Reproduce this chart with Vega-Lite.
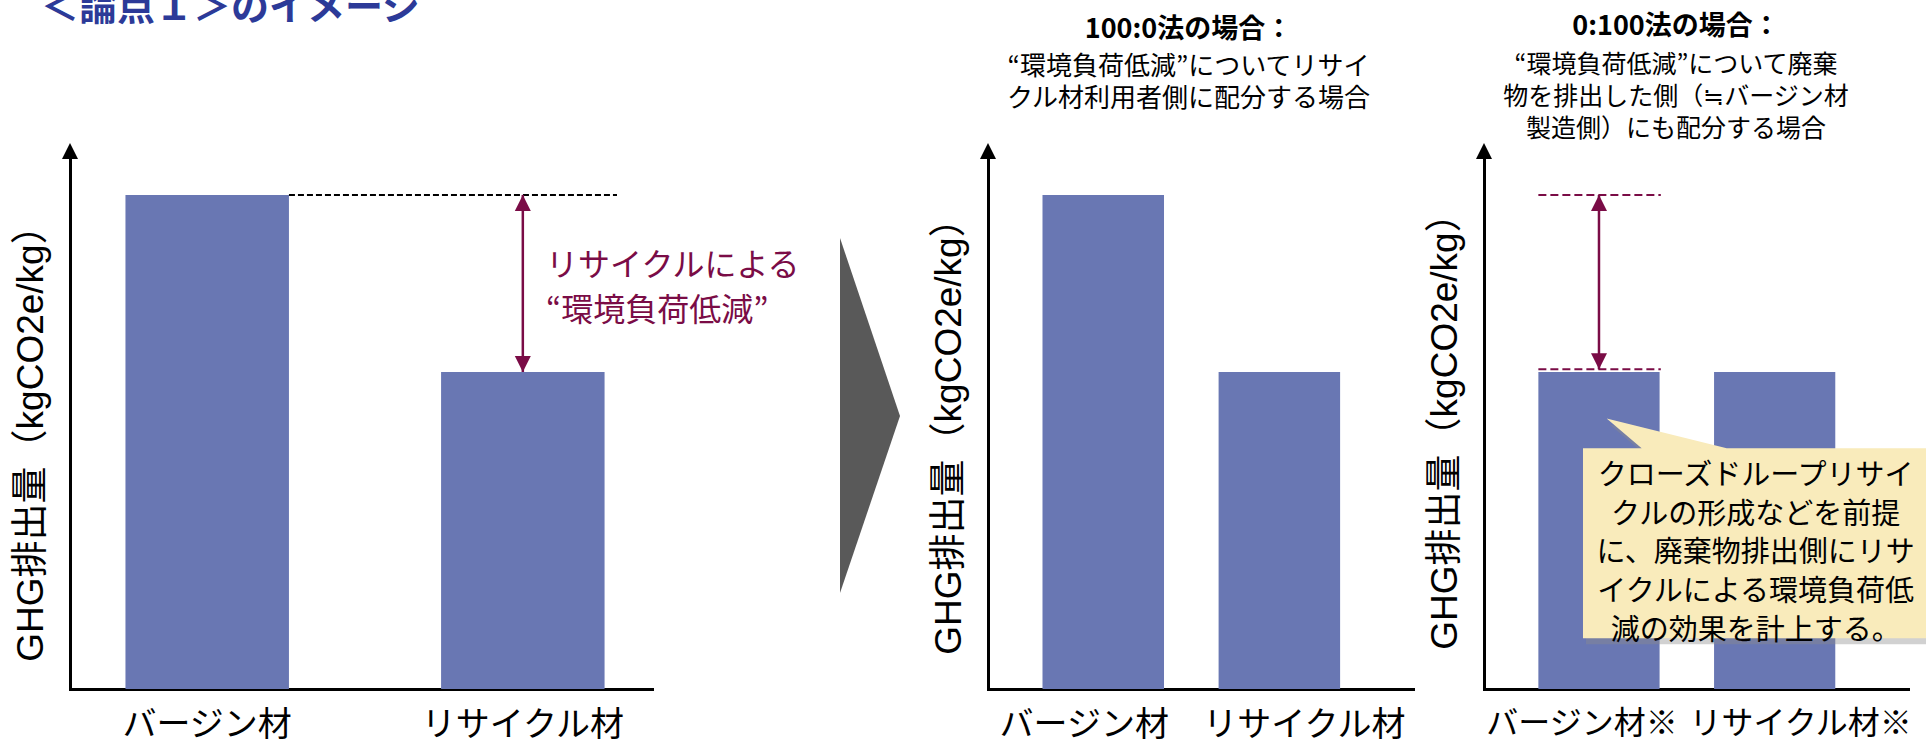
{
  "$schema": "https://vega.github.io/schema/vega-lite/v6.json",
  "background": "white",
  "padding": {"left": 12, "top": -10, "right": 0, "bottom": 20},
  "bounds": "flush",
  "spacing": 71,
  "config": {
    "view": {"stroke": null},
    "font": "Noto Sans CJK JP",
    "axis": {
      "grid": false,
      "ticks": false,
      "domainColor": "black",
      "domainWidth": 3,
      "domainCap": "square",
      "labelColor": "black",
      "titleColor": "black",
      "labelFont": "Noto Sans CJK JP",
      "titleFont": "Liberation Sans, Noto Sans CJK JP",
      "titleFontWeight": "normal",
      "titleFontSize": 37,
      "labelLimit": 0,
      "labelOverlap": false
    },
    "title": {"color": "black", "subtitleColor": "black", "font": "Noto Sans CJK JP", "subtitleFont": "Noto Sans CJK JP"}
  },
  "datasets": {
    "p1": [{"material": "バージン材", "ghg": 91.5}, {"material": "リサイクル材", "ghg": 58.7}],
    "p2": [{"material": "バージン材", "ghg": 91.5}, {"material": "リサイクル材", "ghg": 58.7}],
    "p3": [{"material": "バージン材※", "ghg": 58.7}, {"material": "リサイクル材※", "ghg": 58.7}]
  },
  "hconcat": [
    {
      "width": 582,
      "height": 540,
      "title": {"text": "＜論点１＞のイメージ", "anchor": "start", "frame": "group", "dx": -29, "offset": 77, "baseline": "bottom", "fontSize": 38, "fontWeight": "bold", "color": "#2C3A98"},
      "layer": [
        {
          "data": {"name": "p1"},
          "mark": {"type": "bar", "color": "#6977B3"},
          "encoding": {
            "x": {"field": "material", "type": "nominal", "title": null, "scale": {"paddingInner": 0.482, "paddingOuter": 0.163, "align": 0.539}, "axis": {"labelAngle": 0, "labelFontSize": 34, "labelPadding": 19}},
            "y": {"field": "ghg", "type": "quantitative", "scale": {"domain": [0, 100]}, "axis": {"title": "GHG排出量（kgCO2e/kg）", "labels": false, "titlePadding": 20, "titleY": 285}}
          }
        },
        {
          "data": {"values": [{"material": "バージン材", "material2": "リサイクル材", "ghg": 91.5}]},
          "mark": {"type": "rule", "color": "black", "strokeWidth": 2, "strokeDash": [6, 3]},
          "encoding": {
            "x": {"field": "material", "type": "nominal", "bandPosition": 1, "title": null},
            "x2": {"field": "material2", "bandPosition": 1.076},
            "y": {"field": "ghg", "type": "quantitative"}
          }
        },
        {
          "data": {"values": [{"material": "リサイクル材", "low": 58.7, "high": 91.5}]},
          "mark": {"type": "rule", "color": "#7A0C46", "strokeWidth": 2.5},
          "encoding": {
            "x": {"field": "material", "type": "nominal", "bandPosition": 0.5, "title": null},
            "y": {"field": "low", "type": "quantitative"},
            "y2": {"field": "high"}
          }
        },
        {
          "data": {"values": [{"material": "リサイクル材", "ghg": 91.5, "dir": "up"}, {"material": "リサイクル材", "ghg": 58.7, "dir": "down"}]},
          "mark": {"type": "point", "filled": true, "opacity": 1, "color": "#7A0C46", "size": 1024, "strokeWidth": 0},
          "encoding": {
            "x": {"field": "material", "type": "nominal", "bandPosition": 0.5, "title": null},
            "y": {"field": "ghg", "type": "quantitative"},
            "shape": {"field": "dir", "type": "nominal", "scale": {"domain": ["up", "down"], "range": ["M0,0L0.5,1L-0.5,1Z", "M0,0L0.5,-1L-0.5,-1Z"]}, "legend": null}
          }
        },
        {
          "data": {"values": [{"material": "バージン材"}]},
          "mark": {"type": "point", "filled": true, "opacity": 1, "color": "black", "size": 1024, "strokeWidth": 0, "shape": "M0,0L0.5,1L-0.5,1Z"},
          "encoding": {
            "x": {"field": "material", "type": "nominal", "bandPosition": -0.3392, "title": null},
            "y": {"datum": 101.1, "type": "quantitative"}
          }
        },
        {
          "data": {"values": [{"material": "リサイクル材", "ghg": 78.3, "note": "リサイクルによる\n“環境負荷低減”"}]},
          "mark": {"type": "text", "align": "left", "baseline": "middle", "fontSize": 32, "lineHeight": 45, "lineBreak": "\n", "color": "#7A0C46"},
          "encoding": {
            "x": {"field": "material", "type": "nominal", "bandPosition": 0.642, "title": null},
            "y": {"field": "ghg", "type": "quantitative"},
            "text": {"field": "note"}
          }
        }
      ]
    },
    {
      "width": 194,
      "height": 540,
      "data": {"values": [{"step": "next"}]},
      "mark": {"type": "point", "filled": true, "opacity": 1, "color": "#595959", "size": 40000, "strokeWidth": 0, "shape": "M0.2,-1.81L0.8,-0.03L0.2,1.74Z"},
      "encoding": {}
    },
    {
      "width": 425,
      "height": 540,
      "title": {"text": "100:0法の場合：", "subtitle": ["“環境負荷低減”についてリサイ", "クル材利用者側に配分する場合"], "anchor": "middle", "dx": -12, "offset": 30, "fontSize": 27, "fontWeight": "bold", "subtitleFontSize": 26, "subtitleLineHeight": 32, "subtitlePadding": 10},
      "layer": [
        {
          "data": {"name": "p2"},
          "mark": {"type": "bar", "color": "#6977B3"},
          "encoding": {
            "x": {"field": "material", "type": "nominal", "title": null, "scale": {"paddingInner": 0.31, "paddingOuter": 0.3617, "align": 0.4278}, "axis": {"labelAngle": 0, "labelFontSize": 34, "labelPadding": 19, "labelOffset": {"condition": {"test": "datum.value === 'バージン材'", "value": -19}, "value": 25}}},
            "y": {"field": "ghg", "type": "quantitative", "scale": {"domain": [0, 100]}, "axis": {"title": "GHG排出量（kgCO2e/kg）", "labels": false, "titlePadding": 20, "titleY": 278}}
          }
        },
        {
          "data": {"values": [{"material": "バージン材"}]},
          "mark": {"type": "point", "filled": true, "opacity": 1, "color": "black", "size": 1024, "strokeWidth": 0, "shape": "M0,0L0.5,1L-0.5,1Z"},
          "encoding": {
            "x": {"field": "material", "type": "nominal", "bandPosition": -0.4485, "title": null},
            "y": {"datum": 101.1, "type": "quantitative"}
          }
        }
      ]
    },
    {
      "width": 424,
      "height": 540,
      "title": {"text": "0:100法の場合：", "subtitle": ["“環境負荷低減”について廃棄", "物を排出した側（≒バージン材", "製造側）にも配分する場合"], "anchor": "middle", "dx": -20, "offset": 0, "fontSize": 27, "fontWeight": "bold", "subtitleFontSize": 25, "subtitleLineHeight": 32, "subtitlePadding": 12},
      "layer": [
        {
          "data": {"name": "p3"},
          "mark": {"type": "bar", "color": "#6977B3"},
          "encoding": {
            "x": {"field": "material", "type": "nominal", "title": null, "scale": {"paddingInner": 0.31, "paddingOuter": 0.3617, "align": 0.4278}, "axis": {"labelAngle": 0, "labelFontSize": 32, "labelPadding": 19, "labelOffset": {"condition": {"test": "datum.value === 'バージン材※'", "value": -17}, "value": 26}}},
            "y": {"field": "ghg", "type": "quantitative", "scale": {"domain": [0, 100]}, "axis": {"title": "GHG排出量（kgCO2e/kg）", "labels": false, "titlePadding": 20, "titleY": 273}}
          }
        },
        {
          "data": {"values": [{"material": "バージン材※", "ghg": 91.5}, {"material": "バージン材※", "ghg": 59.2}]},
          "mark": {"type": "rule", "color": "#7A0C46", "strokeWidth": 2, "strokeDash": [8, 4]},
          "encoding": {
            "x": {"field": "material", "type": "nominal", "bandPosition": 0, "title": null},
            "x2": {"field": "material", "bandPosition": 1.01},
            "y": {"field": "ghg", "type": "quantitative"}
          }
        },
        {
          "data": {"values": [{"material": "バージン材※", "low": 59.2, "high": 91.5}]},
          "mark": {"type": "rule", "color": "#7A0C46", "strokeWidth": 2.5},
          "encoding": {
            "x": {"field": "material", "type": "nominal", "bandPosition": 0.5, "title": null},
            "y": {"field": "low", "type": "quantitative"},
            "y2": {"field": "high"}
          }
        },
        {
          "data": {"values": [{"material": "バージン材※", "ghg": 91.5, "dir": "up"}, {"material": "バージン材※", "ghg": 59.2, "dir": "down"}]},
          "mark": {"type": "point", "filled": true, "opacity": 1, "color": "#7A0C46", "size": 1024, "strokeWidth": 0},
          "encoding": {
            "x": {"field": "material", "type": "nominal", "bandPosition": 0.5, "title": null},
            "y": {"field": "ghg", "type": "quantitative"},
            "shape": {"field": "dir", "type": "nominal", "scale": {"domain": ["up", "down"], "range": ["M0,0L0.5,1L-0.5,1Z", "M0,0L0.5,-1L-0.5,-1Z"]}, "legend": null}
          }
        },
        {
          "data": {"values": [{"material": "リサイクル材※", "ghg": 27.0}]},
          "mark": {"type": "point", "filled": true, "opacity": 0.4, "color": "#8C8C8C", "size": 117649, "strokeWidth": 0, "xOffset": 3, "yOffset": 6, "shape": "M-1,-0.554L-0.658,-0.554L-0.862,-0.727L-0.162,-0.554L1,-0.554L1,0.554L-1,0.554Z"},
          "encoding": {
            "x": {"field": "material", "type": "nominal", "bandPosition": 0.3336, "title": null},
            "y": {"field": "ghg", "type": "quantitative"}
          }
        },
        {
          "data": {"values": [{"material": "リサイクル材※", "ghg": 27.0}]},
          "mark": {"type": "point", "filled": true, "opacity": 1, "color": "#F9EBBB", "size": 117649, "strokeWidth": 0, "shape": "M-1,-0.554L-0.658,-0.554L-0.862,-0.727L-0.162,-0.554L1,-0.554L1,0.554L-1,0.554Z"},
          "encoding": {
            "x": {"field": "material", "type": "nominal", "bandPosition": 0.3336, "title": null},
            "y": {"field": "ghg", "type": "quantitative"}
          }
        },
        {
          "data": {"values": [{"material": "リサイクル材※", "ghg": 39.4, "note": "クローズドループリサイ\nクルの形成などを前提\nに、廃棄物排出側にリサ\nイクルによる環境負荷低\n減の効果を計上する。"}]},
          "mark": {"type": "text", "align": "center", "baseline": "middle", "fontSize": 29, "lineHeight": 38.6, "lineBreak": "\n", "color": "black"},
          "encoding": {
            "x": {"field": "material", "type": "nominal", "bandPosition": 0.343, "title": null},
            "y": {"field": "ghg", "type": "quantitative"},
            "text": {"field": "note"}
          }
        },
        {
          "data": {"values": [{"material": "バージン材※"}]},
          "mark": {"type": "point", "filled": true, "opacity": 1, "color": "black", "size": 1024, "strokeWidth": 0, "shape": "M0,0L0.5,1L-0.5,1Z"},
          "encoding": {
            "x": {"field": "material", "type": "nominal", "bandPosition": -0.4485, "title": null},
            "y": {"datum": 101.1, "type": "quantitative"}
          }
        }
      ]
    }
  ]
}
